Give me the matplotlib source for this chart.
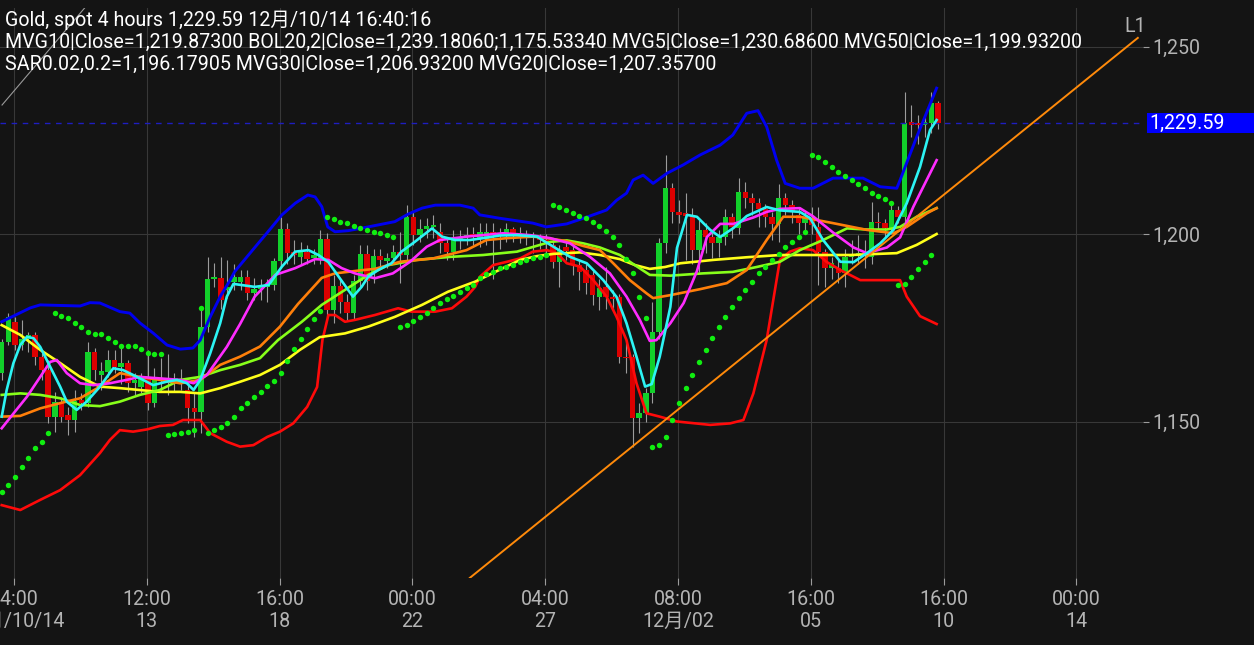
import matplotlib
matplotlib.use("Agg")
import matplotlib.pyplot as plt
import numpy as np
from matplotlib.transforms import blended_transform_factory
from matplotlib.patches import Rectangle
from matplotlib.ticker import FuncFormatter

plt.rcParams['font.family'] = ['Roboto', 'Noto Sans CJK JP', 'DejaVu Sans']

# ---------------- data (4-hour candles, index 0..141) ----------------
opens = [1163.0, 1171.3, 1176.5, 1170.5, 1172.0, 1173.0, 1167.3, 1163.7, 1151.3, 1155.3,
         1151.7, 1150.4, 1155.7, 1154.9, 1168.6, 1162.3, 1163.3, 1166.4, 1164.6, 1165.5,
         1160.2, 1159.2, 1161.6, 1155.0, 1161.6, 1160.8, 1160.2, 1161.2, 1158.4, 1153.6,
         1152.6, 1175.3, 1187.9, 1188.3, 1185.0, 1187.3, 1187.3, 1188.5, 1184.3, 1185.3,
         1185.8, 1186.4, 1192.8, 1201.3, 1195.3, 1193.9, 1195.2, 1193.6, 1193.5, 1198.6,
         1179.7, 1186.1, 1182.0, 1179.0, 1187.5, 1194.7, 1189.6, 1194.1, 1192.8, 1193.5,
         1195.3, 1194.4, 1204.6, 1199.7, 1201.3, 1202.0, 1200.6, 1197.7, 1195.3, 1198.6,
         1199.2, 1200.0, 1198.9, 1198.6, 1200.6, 1199.7, 1199.7, 1201.3, 1200.2, 1199.8,
         1199.3, 1199.0, 1198.4, 1197.1, 1192.6, 1196.6, 1195.7, 1191.7, 1190.4, 1189.0,
         1183.3, 1186.0, 1183.3, 1183.3, 1167.3, 1167.3, 1150.9, 1152.3, 1157.5, 1174.0,
         1197.5, 1212.2, 1205.9, 1205.5, 1205.0, 1195.7, 1201.0, 1199.3, 1197.5, 1199.3,
         1204.6, 1201.5, 1211.3, 1209.5, 1208.2, 1206.8, 1204.6, 1202.7, 1209.5, 1207.7,
         1205.0, 1202.9, 1203.7, 1202.0, 1195.3, 1190.9, 1191.0, 1189.5, 1194.0, 1194.4,
         1195.0, 1194.0, 1203.3, 1202.9, 1201.5, 1206.4, 1204.6, 1230.0, 1229.7, 1229.1,
         1229.5, 1234.9]
highs = [1172.0, 1179.0, 1178.0, 1177.0, 1174.0, 1174.0, 1168.3, 1166.4, 1158.0, 1156.5,
         1154.0, 1158.4, 1157.7, 1171.3, 1169.5, 1166.0, 1169.0, 1169.0, 1170.0, 1166.4,
         1163.0, 1163.0, 1169.0, 1164.3, 1167.0, 1168.0, 1163.0, 1164.0, 1160.5, 1158.0,
         1180.6, 1194.0, 1192.3, 1194.0, 1193.0, 1192.0, 1190.4, 1190.4, 1188.3, 1188.0,
         1188.0, 1193.5, 1204.6, 1203.0, 1198.4, 1198.0, 1197.0, 1196.0, 1201.0, 1200.3,
         1189.0, 1188.0, 1184.0, 1189.0, 1197.1, 1197.0, 1196.0, 1196.0, 1195.0, 1197.0,
         1200.6, 1207.7, 1206.0, 1204.0, 1204.3, 1205.0, 1203.0, 1199.0, 1201.0, 1201.0,
         1202.0, 1202.0, 1203.0, 1203.0, 1203.0, 1201.5, 1203.0, 1202.0, 1202.0, 1201.0,
         1200.5, 1200.0, 1200.0, 1199.0, 1197.0, 1198.5, 1197.0, 1193.0, 1192.0, 1190.5,
         1188.0, 1191.3, 1185.0, 1184.0, 1172.0, 1168.0, 1155.0, 1159.0, 1182.0, 1199.0,
         1221.1, 1213.6, 1209.0, 1211.0, 1207.0, 1203.7, 1203.0, 1201.0, 1201.0, 1206.6,
         1205.5, 1214.9, 1214.0, 1211.0, 1209.5, 1208.0, 1206.0, 1213.3, 1211.0, 1209.0,
         1207.0, 1206.0, 1207.3, 1207.3, 1196.0, 1194.0, 1193.0, 1196.0, 1198.4, 1199.7,
         1198.4, 1208.6, 1206.0, 1204.0, 1207.7, 1207.5, 1237.9, 1234.4, 1231.7, 1231.3,
         1237.9, 1235.5]
lows = [1161.0, 1170.5, 1169.0, 1169.0, 1168.5, 1165.0, 1161.0, 1149.6, 1147.3, 1150.0,
        1146.4, 1147.3, 1153.0, 1154.0, 1161.0, 1158.4, 1162.0, 1163.0, 1160.0, 1158.0,
        1157.0, 1157.5, 1153.0, 1153.9, 1158.0, 1157.0, 1158.0, 1158.5, 1149.6, 1146.0,
        1147.0, 1174.0, 1186.0, 1180.0, 1183.0, 1185.0, 1185.0, 1182.4, 1182.4, 1182.5,
        1182.0, 1185.0, 1191.0, 1192.0, 1192.0, 1192.0, 1192.0, 1192.0, 1192.0, 1178.0,
        1176.3, 1179.0, 1177.1, 1177.0, 1186.0, 1185.0, 1187.0, 1191.0, 1191.0, 1192.0,
        1186.9, 1193.0, 1197.0, 1198.0, 1199.0, 1199.0, 1195.0, 1193.0, 1193.0, 1196.0,
        1197.0, 1197.0, 1196.5, 1197.0, 1188.0, 1196.0, 1198.0, 1198.0, 1197.5, 1197.0,
        1195.0, 1196.0, 1195.0, 1191.0, 1186.0, 1193.0, 1189.0, 1185.0, 1184.0, 1181.0,
        1179.7, 1180.0, 1179.7, 1165.6, 1163.0, 1143.3, 1147.0, 1150.0, 1155.0, 1172.0,
        1195.0, 1203.0, 1203.0, 1193.0, 1192.0, 1190.0, 1195.0, 1193.5, 1194.0, 1197.0,
        1199.0, 1200.0, 1207.0, 1205.0, 1202.0, 1202.0, 1198.4, 1198.0, 1205.0, 1203.0,
        1200.0, 1201.0, 1200.0, 1186.4, 1186.0, 1188.0, 1187.0, 1186.0, 1192.0, 1192.0,
        1191.0, 1192.0, 1201.0, 1199.0, 1200.0, 1203.0, 1203.0, 1226.0, 1224.0, 1226.0,
        1227.0, 1228.0]
closes = [1171.2, 1177.9, 1170.5, 1172.0, 1173.0, 1167.3, 1163.7, 1151.3, 1155.3, 1151.3,
          1150.4, 1155.5, 1154.9, 1168.6, 1163.7, 1163.6, 1166.4, 1164.6, 1165.5, 1160.2,
          1161.0, 1161.6, 1155.0, 1161.6, 1160.8, 1160.2, 1161.2, 1160.5, 1153.6, 1152.6,
          1175.3, 1187.9, 1188.5, 1182.4, 1186.0, 1188.6, 1188.5, 1184.3, 1185.3, 1185.8,
          1186.3, 1192.8, 1201.3, 1194.9, 1194.4, 1195.2, 1193.3, 1194.4, 1198.6, 1179.7,
          1186.1, 1182.0, 1179.0, 1187.5, 1194.7, 1187.5, 1194.1, 1193.1, 1193.6, 1195.3,
          1194.4, 1204.6, 1199.7, 1201.3, 1202.2, 1202.5, 1197.7, 1195.3, 1198.6, 1199.2,
          1199.8, 1199.5, 1200.6, 1200.6, 1199.7, 1200.3, 1201.3, 1200.2, 1199.8, 1199.3,
          1199.0, 1198.4, 1198.0, 1192.6, 1195.7, 1195.5, 1191.7, 1190.0, 1186.9, 1183.7,
          1185.5, 1183.3, 1182.7, 1167.3, 1166.9, 1150.9, 1152.3, 1157.6, 1174.0, 1197.5,
          1212.2, 1205.9, 1205.0, 1204.8, 1195.7, 1201.0, 1199.3, 1197.5, 1199.3, 1204.6,
          1202.0, 1211.3, 1209.5, 1208.2, 1206.8, 1204.6, 1202.7, 1209.5, 1207.7, 1206.0,
          1202.9, 1204.6, 1202.4, 1195.3, 1190.9, 1192.2, 1189.5, 1194.0, 1194.4, 1195.0,
          1194.5, 1203.3, 1202.9, 1201.5, 1206.4, 1204.6, 1229.5, 1229.1, 1229.2, 1230.0,
          1234.9, 1229.59]

# Parabolic SAR (one value per candle, nan = not drawn)
sar = [1131.2, 1133.1, 1135.3, 1137.9, 1140.2, 1142.9, 1144.6, 1146.9,
       1178.9, 1178.2, 1177.5, 1176.3, 1175.1, 1173.9, 1173.3, 1173.3, 1172.2, 1171.1,
       1170.2, 1170.1, 1170.1, 1169.3, 1168.2, 1168.0, 1168.0,
       1146.4, 1146.7, 1147.0, 1147.3, 1147.7,
       1180.2,
       1146.9, 1147.7, 1148.6, 1149.7, 1151.1, 1153.5, 1154.9, 1156.5, 1158.0, 1159.5,
       1160.9, 1162.9, 1166.2, 1169.3, 1171.9, 1174.6, 1177.3, 1179.5,
       1204.6, 1203.9, 1203.3, 1202.9, 1202.1, 1201.7, 1201.1, 1200.6, 1200.2, 1199.7, 1199.3,
       1175.3, 1175.7, 1176.8, 1177.9, 1179.0, 1180.2, 1181.5, 1182.6, 1183.5, 1184.6,
       1185.5, 1186.4, 1188.2, 1189.3, 1190.0, 1190.9, 1191.3, 1191.7, 1192.6, 1193.1,
       1193.6, 1194.0, 1194.4,
       1207.7, 1207.3, 1206.4, 1205.7, 1204.8, 1204.2, 1203.3, 1202.1, 1200.9, 1199.1,
       1197.1, 1193.3, 1189.7, 1183.3, 1177.5,
       1143.3, 1143.7, 1145.9, 1150.4, 1154.9, 1158.9, 1162.4, 1165.9, 1169.1, 1172.2,
       1175.3, 1178.0, 1180.6, 1182.9, 1185.1, 1187.3, 1189.5, 1191.3, 1193.1, 1194.8,
       1196.6, 1197.9, 1199.3, 1200.6,
       1221.1, 1220.6, 1219.3, 1217.9, 1216.6, 1215.5, 1214.4, 1213.3, 1212.2, 1211.0,
       1210.1, 1209.3, 1208.2,
       1186.4, 1186.7, 1188.6, 1190.7, 1192.6, 1194.4, np.nan]

# moving averages / bands, sampled along the candle index axis
mvg5_x = [0, 0.75, 1.75, 2.8, 3.8, 4.8, 5.8, 7.3, 8.8, 9.8, 11.3, 12.8, 14.8, 16.8, 18.3, 19.8,
          21.3, 22.8, 24.8, 26.4, 27.9, 28.9, 29.9, 31.4, 32.9, 33.9, 34.9, 38.1, 40.2, 42.2,
          44.2, 46.2, 47.7, 49.2, 51.2, 52.9, 54.2, 55.2, 56.7, 58.7, 60.2, 62.2, 64.8, 66.3,
          68.3, 70.5, 72.5, 75.0, 77.6, 80.6, 83.1, 85.6, 88.1, 90.6, 92.6, 94.1, 95.6, 96.9,
          97.9, 99.1, 100.7, 101.7, 103.2, 104.7, 106.7, 108.2, 110.2, 112.2, 115.2, 117.2,
          120.2, 121.7, 123.7, 126.3, 128.3, 130.3, 132.3, 134.3, 136.3, 138.3, 139.8, 140.8]
mvg5 = [1151.3, 1158.4, 1165.5, 1170.4, 1172.6, 1172.2, 1169.9, 1164.6, 1159.3, 1155.3,
        1153.1, 1155.3, 1159.3, 1164.2, 1163.7, 1162.4, 1161.1, 1159.7, 1160.6, 1161.1,
        1160.2, 1158.4, 1161.1, 1168.2, 1176.2, 1183.3, 1186.7, 1185.9, 1186.4, 1191.3,
        1195.3, 1195.7, 1194.4, 1192.5, 1187.5, 1183.3, 1185.9, 1188.6, 1190.4, 1192.2,
        1195.3, 1197.9, 1201.5, 1199.3, 1198.4, 1198.4, 1198.9, 1199.6, 1199.7, 1199.3,
        1196.6, 1193.9, 1192.2, 1187.7, 1183.2, 1176.2, 1167.3, 1159.3, 1160.0, 1167.3,
        1180.6, 1196.3, 1205.1, 1204.6, 1201.1, 1199.2, 1201.6, 1204.8, 1207.2, 1206.3,
        1205.9, 1204.3, 1198.4, 1192.6, 1192.5, 1194.9, 1197.5, 1201.1, 1208.2, 1217.9,
        1227.7, 1230.4]
mvg10_x = [0, 1.8, 3.8, 5.8, 7.3, 8.3, 9.8, 11.8, 13.8, 16.3, 18.8, 20.8, 23.8, 26.9, 28.9,
           30.9, 33.9, 35.9, 38.1, 41.2, 44.2, 47.2, 49.2, 51.2, 53.2, 56.2, 58.9, 61.5, 64.0,
           66.0, 70.0, 75.5, 79.6, 82.6, 85.6, 88.6, 91.6, 94.1, 96.1, 97.6, 98.6, 100.7,
           102.7, 104.7, 106.2, 108.2, 110.2, 113.2, 115.2, 117.2, 120.2, 122.2, 125.2, 128.3,
           130.3, 133.3, 135.3, 137.3, 139.3, 140.8]
mvg10 = [1148.2, 1152.2, 1156.6, 1161.9, 1165.9, 1166.4, 1162.9, 1160.2, 1159.7, 1160.2,
         1161.1, 1161.9, 1161.5, 1161.1, 1160.2, 1162.4, 1169.9, 1176.0, 1183.3, 1189.1,
         1190.9, 1193.3, 1193.1, 1190.9, 1189.5, 1188.2, 1189.5, 1192.6, 1196.6, 1198.4,
         1199.3, 1200.2, 1199.7, 1198.9, 1197.5, 1193.9, 1189.5, 1183.3, 1177.1, 1171.5,
         1171.7, 1176.2, 1181.6, 1190.1, 1199.2, 1202.7, 1202.7, 1204.4, 1205.9, 1206.7,
         1206.9, 1204.7, 1200.4, 1196.4, 1194.9, 1196.4, 1199.1, 1207.3, 1214.4, 1219.7]
mvg20_x = [0, 2.8, 5.8, 8.8, 11.8, 14.8, 17.8, 20.8, 23.8, 26.9, 29.9, 32.9, 35.9, 38.9, 41.9,
           44.6, 48.2, 50.2, 54.0, 56.2, 60.0, 65.0, 70.0, 73.0, 76.1, 80.0, 82.1, 85.1, 87.6,
           90.1, 92.1, 94.6, 97.1, 98.1, 100.7, 105.2, 109.2, 112.2, 115.2, 117.7, 120.2,
           125.2, 130.3, 134.3, 136.3, 139.3, 140.8]
mvg20 = [1151.3, 1151.5, 1153.5, 1154.9, 1156.2, 1159.3, 1162.9, 1161.9, 1161.1, 1160.2,
         1161.1, 1165.1, 1167.3, 1170.0, 1175.3, 1181.3, 1188.3, 1189.5, 1190.3, 1190.7,
         1192.6, 1193.5, 1195.7, 1198.4, 1198.9, 1199.3, 1198.9, 1198.1, 1196.8, 1195.7,
         1192.2, 1187.7, 1184.2, 1182.9, 1183.7, 1185.3, 1186.9, 1190.4, 1198.4, 1204.6,
         1204.6, 1202.9, 1201.1, 1200.2, 1201.9, 1205.5, 1206.9]
mvg30_x = [0, 2.8, 5.8, 8.8, 11.8, 14.8, 17.8, 20.8, 23.8, 26.9, 29.9, 32.9, 35.9, 38.9, 41.6,
           45.2, 48.2, 51.7, 55.2, 58.2, 62.5, 67.5, 72.5, 77.6, 82.6, 85.1, 87.6, 90.1, 93.1,
           95.1, 97.6, 100.7, 105.6, 110.1, 113.7, 117.2, 120.2, 123.7, 127.3, 130.3, 133.3,
           135.3, 137.8, 140.8]
mvg30 = [1157.1, 1157.5, 1157.1, 1156.2, 1154.4, 1154.1, 1155.3, 1157.1, 1158.4, 1161.1,
         1161.9, 1163.7, 1165.1, 1166.9, 1171.7, 1176.6, 1181.1, 1185.1, 1189.1, 1191.7,
         1193.1, 1193.9, 1194.4, 1195.3, 1197.9, 1198.3, 1197.5, 1196.4, 1194.4, 1192.0,
         1189.1, 1188.9, 1189.5, 1189.9, 1191.2, 1192.6, 1195.7, 1198.4, 1201.5, 1201.2,
         1201.2, 1201.9, 1204.6, 1206.9]
mvg50_x = [0, 2.8, 5.8, 8.8, 11.8, 14.8, 17.8, 20.8, 23.8, 26.9, 29.9, 32.9, 35.9, 38.9, 41.9,
           44.9, 47.9, 51.7, 55.2, 59.2, 63.3, 67.2, 71.3, 75.5, 78.1, 80.6, 83.1, 87.1, 90.1,
           93.1, 95.4, 97.6, 99.9, 102.2, 107.2, 112.2, 117.2, 122.2, 127.8, 134.8, 137.8, 140.8]
mvg50 = [1175.7, 1173.1, 1169.1, 1165.6, 1161.9, 1159.3, 1158.9, 1158.4, 1157.9, 1157.9,
         1157.5, 1158.9, 1160.6, 1162.4, 1165.1, 1169.1, 1172.5, 1173.5, 1175.3, 1177.9,
         1181.1, 1184.6, 1187.3, 1190.9, 1193.1, 1194.1, 1194.7, 1195.1, 1194.4, 1193.3,
         1191.7, 1190.7, 1191.2, 1192.2, 1193.1, 1193.8, 1194.4, 1194.4, 1194.4, 1194.9,
         1197.1, 1200.0]
bol_up_x = [0, 4.3, 5.8, 11.8, 13.3, 14.8, 17.8, 19.3, 20.8, 22.8, 24.9, 26.9, 28.8, 29.9,
            31.4, 32.9, 34.4, 35.1, 38.2, 40.1, 42.2, 44.2, 46.1, 47.2, 48.2, 49.1, 50.2, 52.2,
            55.2, 59.2, 61.2, 63.3, 65.3, 69.0, 71.0, 72.0, 75.0, 80.0, 82.0, 85.1, 88.1, 91.1,
            92.6, 94.1, 95.1, 96.6, 98.1, 100.2, 102.6, 105.2, 108.2, 110.1, 112.2, 113.9,
            115.2, 116.7, 118.0, 120.2, 122.2, 125.2, 129.7, 132.3, 134.8, 135.3, 137.8, 140.8]
bol_up = [1176.6, 1180.3, 1181.1, 1180.8, 1181.7, 1181.6, 1179.3, 1178.9, 1176.3, 1173.6,
          1170.4, 1169.3, 1169.6, 1171.7, 1177.9, 1183.3, 1187.7, 1190.0, 1196.6, 1200.6,
          1205.1, 1208.2, 1210.4, 1209.9, 1207.3, 1201.9, 1200.6, 1200.9, 1201.9, 1203.3,
          1205.3, 1206.9, 1207.7, 1207.7, 1206.9, 1205.1, 1204.2, 1202.9, 1201.9, 1202.7,
          1204.5, 1206.4, 1209.0, 1210.9, 1214.4, 1215.7, 1213.5, 1216.2, 1218.4, 1221.1,
          1223.7, 1226.4, 1232.2, 1232.9, 1228.6, 1219.7, 1213.5, 1212.2, 1212.2, 1214.9,
          1214.9, 1212.6, 1212.2, 1214.4, 1225.9, 1238.9]
bol_lo_x = [0, 2.8, 5.8, 8.8, 11.8, 14.8, 16.3, 17.8, 19.8, 21.9, 23.8, 25.8, 27.3, 29.9, 31.4,
            33.9, 35.9, 37.9, 40.0, 41.9, 43.9, 46.0, 47.5, 48.3, 49.2, 50.2, 51.7, 53.2, 56.2,
            59.7, 61.7, 65.3, 67.8, 70.0, 71.3, 72.0, 74.0, 76.1, 78.1, 80.0, 82.1, 83.6, 85.1,
            87.1, 89.1, 91.1, 92.6, 94.1, 95.6, 97.1, 99.1, 101.7, 106.7, 109.7, 111.7, 113.2,
            115.2, 117.2, 118.7, 120.2, 122.2, 124.2, 126.3, 129.3, 132.3, 135.3, 136.3, 138.3,
            140.8]
bol_lo = [1127.7, 1126.4, 1129.1, 1131.7, 1135.7, 1141.6, 1145.1, 1147.7, 1147.3, 1147.9,
          1148.8, 1149.1, 1150.4, 1150.4, 1146.9, 1144.6, 1143.3, 1143.7, 1145.9, 1147.3,
          1149.5, 1153.9, 1159.2, 1171.7, 1178.4, 1178.4, 1176.6, 1177.1, 1178.4, 1180.2,
          1179.3, 1179.3, 1180.2, 1183.3, 1185.9, 1188.6, 1191.7, 1192.6, 1193.5, 1195.3,
          1195.7, 1194.9, 1192.2, 1191.3, 1187.7, 1183.3, 1177.9, 1171.7, 1160.2, 1152.2,
          1151.3, 1150.0, 1149.1, 1149.5, 1150.4, 1157.5, 1171.7, 1193.1, 1195.3, 1196.2,
          1195.7, 1192.6, 1190.4, 1187.7, 1187.7, 1187.7, 1183.3, 1178.1, 1176.0]

# drawn trend lines (candle index, price)
l1_x = [70.5, 171.1]
l1_y = [1108.3, 1252.3]
l2_x = [0.05, 12.5]
l2_y = [1234.4, 1260.3]

last_price = 1229.59
y_ticks = [1150, 1200, 1250]
x_tick_pos = [1.85, 21.85, 41.85, 61.85, 81.85, 101.85, 121.85, 141.85, 161.85]
x_row1 = ['04:00', '12:00', '16:00', '00:00', '04:00', '08:00', '16:00', '16:00', '00:00']
x_row2 = ['11月/10/14', '13', '18', '22', '27', '12月/02', '05', '10', '14']

header = ['Gold, spot 4 hours 1,229.59 12月/10/14 16:40:16',
          'MVG10|Close=1,219.87300 BOL20,2|Close=1,239.18060;1,175.53340 MVG5|Close=1,230.68600 MVG50|Close=1,199.93200',
          'SAR0.02,0.2=1,196.17905 MVG30|Close=1,206.93200 MVG20|Close=1,207.35700']

# ---------------- styling ----------------
BG = '#141414'
GRID = '#383838'
TXT = '#b4b4b4'
UP = '#12d02a'
DN = '#dc0000'
WICK = '#9c9c9c'
FS = 14.1

W, H = 1254, 645
fig = plt.figure(figsize=(W / 100, H / 100), dpi=100, facecolor=BG)
ax = fig.add_axes([0, 67 / H, 1143 / W, 570 / H])
ax.set_facecolor(BG)
ax.set_xlim(-0.256, 171.88)
ax.set_ylim(1108.27, 1260.27)

o = np.array(opens); h = np.array(highs); l = np.array(lows); c = np.array(closes)
idx = np.arange(len(c))
up = c >= o
ax.vlines(idx, l, h, color=WICK, lw=0.8, zorder=2)
body_h = np.maximum(np.abs(c - o), 0.35)
ax.bar(idx, body_h, bottom=np.minimum(o, c), width=0.82,
       color=np.where(up, UP, DN), edgecolor='none', zorder=3)

lw = 1.9
ax.plot(bol_up_x, bol_up, color='#0000f0', lw=2.1, zorder=4)
ax.plot(bol_lo_x, bol_lo, color='#ff0a0a', lw=lw, zorder=4)
ax.plot(mvg50_x, mvg50, color='#ffff1a', lw=lw, zorder=5)
ax.plot(mvg30_x, mvg30, color='#88ff1a', lw=lw, zorder=5)
ax.plot(mvg20_x, mvg20, color='#ff7f0a', lw=lw, zorder=5)
ax.plot(mvg10_x, mvg10, color='#ff2cff', lw=lw, zorder=5)
ax.plot(mvg5_x, mvg5, color='#2cf4f4', lw=lw, zorder=6)
ax.plot(np.arange(len(sar)), sar, 'o', color='#10ee10', ms=3.9, mec='none', zorder=6)
ax.plot(l1_x, l1_y, color='#ff8a0a', lw=1.4, zorder=7)
ax.plot(l2_x, l2_y, color='#9a9a9a', lw=0.8, zorder=7)
ax.annotate('L1', xy=(l1_x[1], l1_y[1]), xytext=(-2, 1), textcoords='offset points',
            ha='center', va='bottom', color=TXT, fontsize=FS, annotation_clip=False)

# last price marker
ax.axhline(last_price, color='#1e1ec0', lw=1.0, ls=(0, (4, 4)), zorder=3)
tr = blended_transform_factory(ax.transAxes, ax.transData)
ax.add_patch(Rectangle((1147 / 1143, last_price - 2.55), 0.12, 5.1, transform=tr,
                       facecolor='#0000ff', edgecolor='none', clip_on=False, zorder=8))
ax.text(1149 / 1143, last_price, f'{last_price:,.2f}', transform=tr, ha='left', va='center',
        color='white', fontsize=FS, zorder=9)

# axes / grid
for s in ax.spines.values():
    s.set_visible(False)
ax.set_xticks(x_tick_pos)
ax.set_xticklabels([f'{a}\n{b}' for a, b in zip(x_row1, x_row2)])
ax.set_yticks(y_ticks)
ax.yaxis.set_major_formatter(FuncFormatter(lambda v, p: f'{v:,.0f}'))
ax.yaxis.tick_right()
ax.grid(True, color=GRID, lw=0.8, zorder=0)
ax.tick_params(axis='x', colors=WICK, labelcolor=TXT, length=5, width=0.8, pad=3.5, labelsize=FS)
ax.tick_params(axis='y', colors=WICK, labelcolor=TXT, length=4, width=0.8, pad=3, labelsize=FS)
for lab in ax.get_xticklabels():
    lab.set_linespacing(1.22)

for k, line in enumerate(header):
    fig.text(5 / W, 1 - (26 + 22 * k) / H, line, color='white', fontsize=FS, va='baseline')

fig.savefig('out.png', dpi=100, facecolor=BG)
